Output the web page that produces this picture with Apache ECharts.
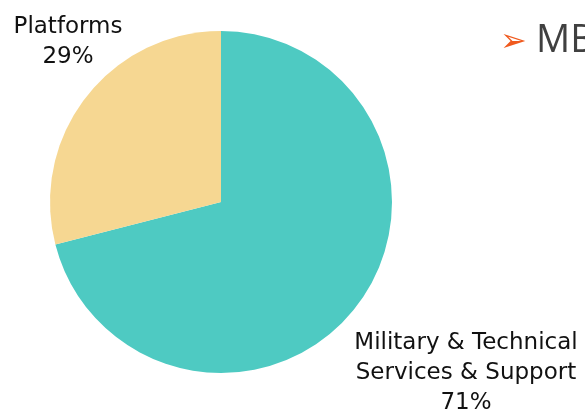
<!DOCTYPE html>
<html>
<head>
<meta charset="utf-8">
<script src="https://cdn.jsdelivr.net/npm/echarts@6/dist/echarts.min.js"></script>
<style>
  html, body { margin: 0; padding: 0; background: #fff; }
  #chart { width: 585px; height: 414px; }
</style>
</head>
<body>
<div id="chart"></div>
<script>
// data
var categories = ["Military & Technical\nServices & Support", "Platforms"];
var values = [71, 29];
var colors = ["#4ECAC2", "#F6D792"];
// where each label block sits (centre)
var labelSpots = [[466, 373], [68, 42]];

var myChart = echarts.init(document.getElementById("chart"));

myChart.setOption({
  animation: false,
  textStyle: { fontFamily: "DejaVu Sans" },
  graphic: [
    {
      type: "text",
      left: 500,
      top: 27,
      style: { text: "➢", fontSize: 32, fill: "#F05A1E", fontFamily: "DejaVu Sans" }
    },
    {
      type: "text",
      left: 536,
      top: 22,
      style: { text: "MB", fontSize: 38, fill: "#404040", fontFamily: "Open Sans" }
    }
  ],
  series: [
    {
      type: "pie",
      center: [221, 202],
      radius: 171,
      startAngle: 90,
      clockwise: true,
      data: categories.map(function (c, i) {
        return { name: c, value: values[i], itemStyle: { color: colors[i] } };
      }),
      label: {
        show: true,
        formatter: "{b}\n{d}%",
        fontSize: 23,
        lineHeight: 30,
        color: "#111",
        align: "center",
        overflow: "none",
        width: 400
      },
      labelLine: { show: false },
      labelLayout: function (params) {
        var p = labelSpots[params.dataIndex];
        return { x: p[0], y: p[1], align: "center", verticalAlign: "middle" };
      }
    }
  ]
});
</script>
</body>
</html>
